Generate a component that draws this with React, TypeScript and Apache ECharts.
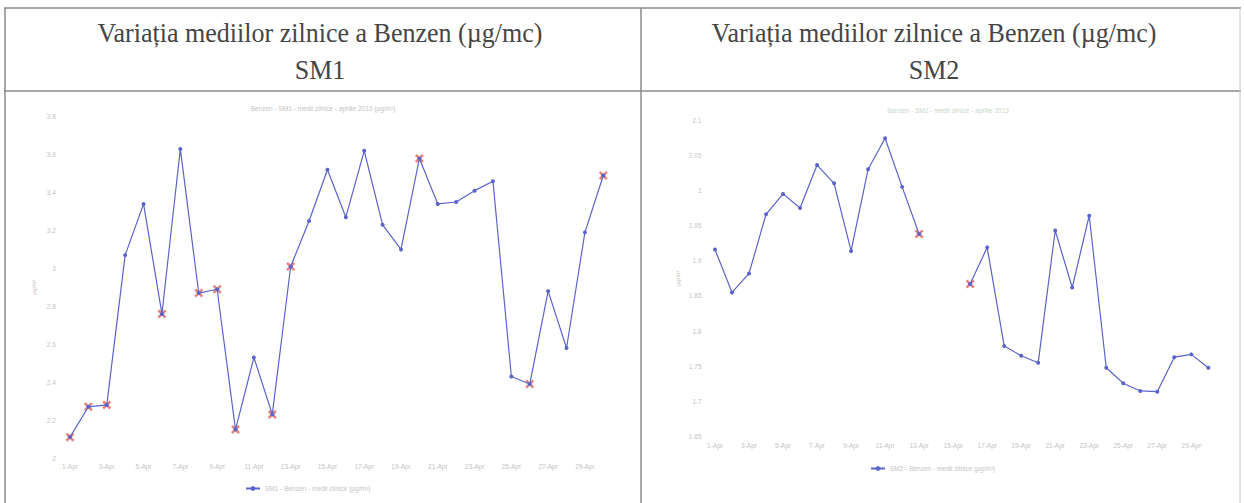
import React, { useEffect, useRef } from "react";
import * as echarts from "echarts";

const days = Array.from({ length: 30 }, (_, i) => `${i + 1}-Apr`);

const sm1Values = [
  2.11, 2.27, 2.28, 3.07, 3.34, 2.76, 3.63, 2.87, 2.89, 2.15,
  2.53, 2.23, 3.01, 3.25, 3.52, 3.27, 3.62, 3.23, 3.1, 3.58,
  3.34, 3.35, 3.41, 3.46, 2.43, 2.39, 2.88, 2.58, 3.19, 3.49,
];
const sm1FlaggedDays = [1, 2, 3, 6, 8, 9, 10, 12, 13, 20, 26, 30];

const sm2Values: (number | null)[] = [
  1.916, 1.855, 1.882, 1.966, 1.995, 1.975, 2.036, 2.01, 1.914, 2.03,
  2.074, 2.005, 1.938, null, null, 1.867, 1.919, 1.779, 1.765, 1.755,
  1.943, 1.862, 1.964, 1.748, 1.726, 1.715, 1.714, 1.763, 1.767, 1.748,
];
const sm2FlaggedDays = [13, 16];

const sm1Axis = { min: 2, max: 3.8, interval: 0.2 };
const sm2Axis = { min: 1.65, max: 2.1, interval: 0.05 };

const headerTitle = "Variația mediilor zilnice a Benzen (µg/mc)";
const stationNames = ["SM1", "SM2"];
const innerTitles = [
  "Benzen - SM1 - medii zilnice - aprilie 2013 (µg/m³)",
  "Benzen - SM2 - medii zilnice - aprilie 2013",
];
const legendNames = ["SM1 - Benzen - medii zilnice (µg/m³)", "SM2 - Benzen - medii zilnice (µg/m³)"];

const crossPath =
  "path://M2,0 L5,3 L8,0 L10,2 L7,5 L10,8 L8,10 L5,7 L2,10 L0,8 L3,5 L0,2 Z";

const lineColor = "#5a64cc";
const flagColor = "#e0706a";
const faint = "#c4c4c4";

export default function App() {
  const ref = useRef<HTMLDivElement>(null);
  useEffect(() => {
    if (!ref.current) return;
    const chart = echarts.init(ref.current, null, { renderer: "svg" });
    const border = { stroke: "#8a8a8a", lineWidth: 1.5 };
    const fmt = (v: number) => String(+v.toFixed(2));
    const mkX = (gi: number) => ({
      type: "category" as const,
      gridIndex: gi,
      data: days,
      boundaryGap: true,
      axisLine: { show: false },
      axisTick: { show: false },
      axisLabel: { interval: 1, fontSize: 6.5, color: faint, margin: 5 },
    });
    const mkY = (gi: number, ax: any, gap: number) => ({
      type: "value" as const,
      gridIndex: gi,
      min: ax.min,
      max: ax.max,
      interval: ax.interval,
      name: "µg/m³",
      nameLocation: "middle" as const,
      nameRotate: 90,
      nameGap: gap,
      nameTextStyle: { fontSize: 6, color: faint },
      axisLine: { show: false },
      axisTick: { show: false },
      splitLine: { show: false },
      axisLabel: { fontSize: 6.5, color: faint, margin: 5, formatter: fmt },
    });
    const flagged = (vals: (number | null)[], ds: number[]) =>
      ds.map((d) => [d - 1, vals[d - 1]]);
    const headerFont = "28px 'Liberation Serif', serif";
    const headerText = (x: number, y: number, text: string) => ({
      type: "text",
      x,
      y,
      scaleX: 0.93,
      style: { text, align: "center", verticalAlign: "middle", font: headerFont, fill: "#454545" },
    });
    chart.setOption({
      animation: false,
      backgroundColor: "#ffffff",
      title: [
        {
          text: innerTitles[0],
          left: 318,
          top: 100,
          textAlign: "center",
          textStyle: { fontSize: 6.5, color: faint, fontWeight: "normal", fontFamily: "Arial" },
        },
        {
          text: innerTitles[1],
          left: 943,
          top: 102,
          textAlign: "center",
          textStyle: { fontSize: 6.5, color: "#c8d8c8", fontWeight: "normal", fontFamily: "Arial" },
        },
      ],
      legend: [
        {
          data: [legendNames[0]],
          left: 240,
          top: 480,
          itemWidth: 14,
          itemHeight: 6,
          textStyle: { fontSize: 6.5, color: faint },
        },
        {
          data: [legendNames[1]],
          left: 865,
          top: 460,
          itemWidth: 14,
          itemHeight: 6,
          textStyle: { fontSize: 6.5, color: faint },
        },
      ],
      grid: [
        { left: 60.8, right: 631.5, top: 116.7, bottom: 45 },
        { left: 706.5, right: 27.2, top: 120, bottom: 66.3 },
      ],
      xAxis: [mkX(0), mkX(1)],
      yAxis: [mkY(0, sm1Axis, 24), mkY(1, sm2Axis, 26)],
      series: [
        {
          name: legendNames[0],
          type: "line",
          xAxisIndex: 0,
          yAxisIndex: 0,
          data: sm1Values,
          symbol: "circle",
          symbolSize: 4,
          lineStyle: { color: lineColor, width: 1.2 },
          itemStyle: { color: lineColor },
        },
        {
          name: "SM1 invalid",
          type: "scatter",
          xAxisIndex: 0,
          yAxisIndex: 0,
          data: flagged(sm1Values, sm1FlaggedDays),
          symbol: crossPath,
          symbolSize: 9,
          itemStyle: { color: flagColor, opacity: 0.85 },
        },
        {
          name: legendNames[1],
          type: "line",
          xAxisIndex: 1,
          yAxisIndex: 1,
          data: sm2Values,
          connectNulls: false,
          symbol: "circle",
          symbolSize: 4,
          lineStyle: { color: lineColor, width: 1.2 },
          itemStyle: { color: lineColor },
        },
        {
          name: "SM2 invalid",
          type: "scatter",
          xAxisIndex: 1,
          yAxisIndex: 1,
          data: flagged(sm2Values, sm2FlaggedDays),
          symbol: crossPath,
          symbolSize: 9,
          itemStyle: { color: flagColor, opacity: 0.85 },
        },
      ],
      graphic: [
        { type: "line", shape: { x1: 4, y1: 8, x2: 1241, y2: 8 }, style: border, silent: true },
        { type: "line", shape: { x1: 4, y1: 91, x2: 1241, y2: 91 }, style: border, silent: true },
        { type: "line", shape: { x1: 5, y1: 8, x2: 5, y2: 503 }, style: border, silent: true },
        { type: "line", shape: { x1: 641, y1: 8, x2: 641, y2: 503 }, style: border, silent: true },
        { type: "line", shape: { x1: 1240, y1: 8, x2: 1240, y2: 503 }, style: { stroke: "#c8c8c8", lineWidth: 1 }, silent: true },
        headerText(320, 33, headerTitle),
        headerText(320, 70, stationNames[0]),
        headerText(934, 33, headerTitle),
        headerText(934, 70, stationNames[1]),
      ],
    });
    return () => chart.dispose();
  }, []);
  return (
    <div
      ref={ref}
      style={{ position: "fixed", left: 0, top: 0, width: 1244, height: 503 }}
    />
  );
}
